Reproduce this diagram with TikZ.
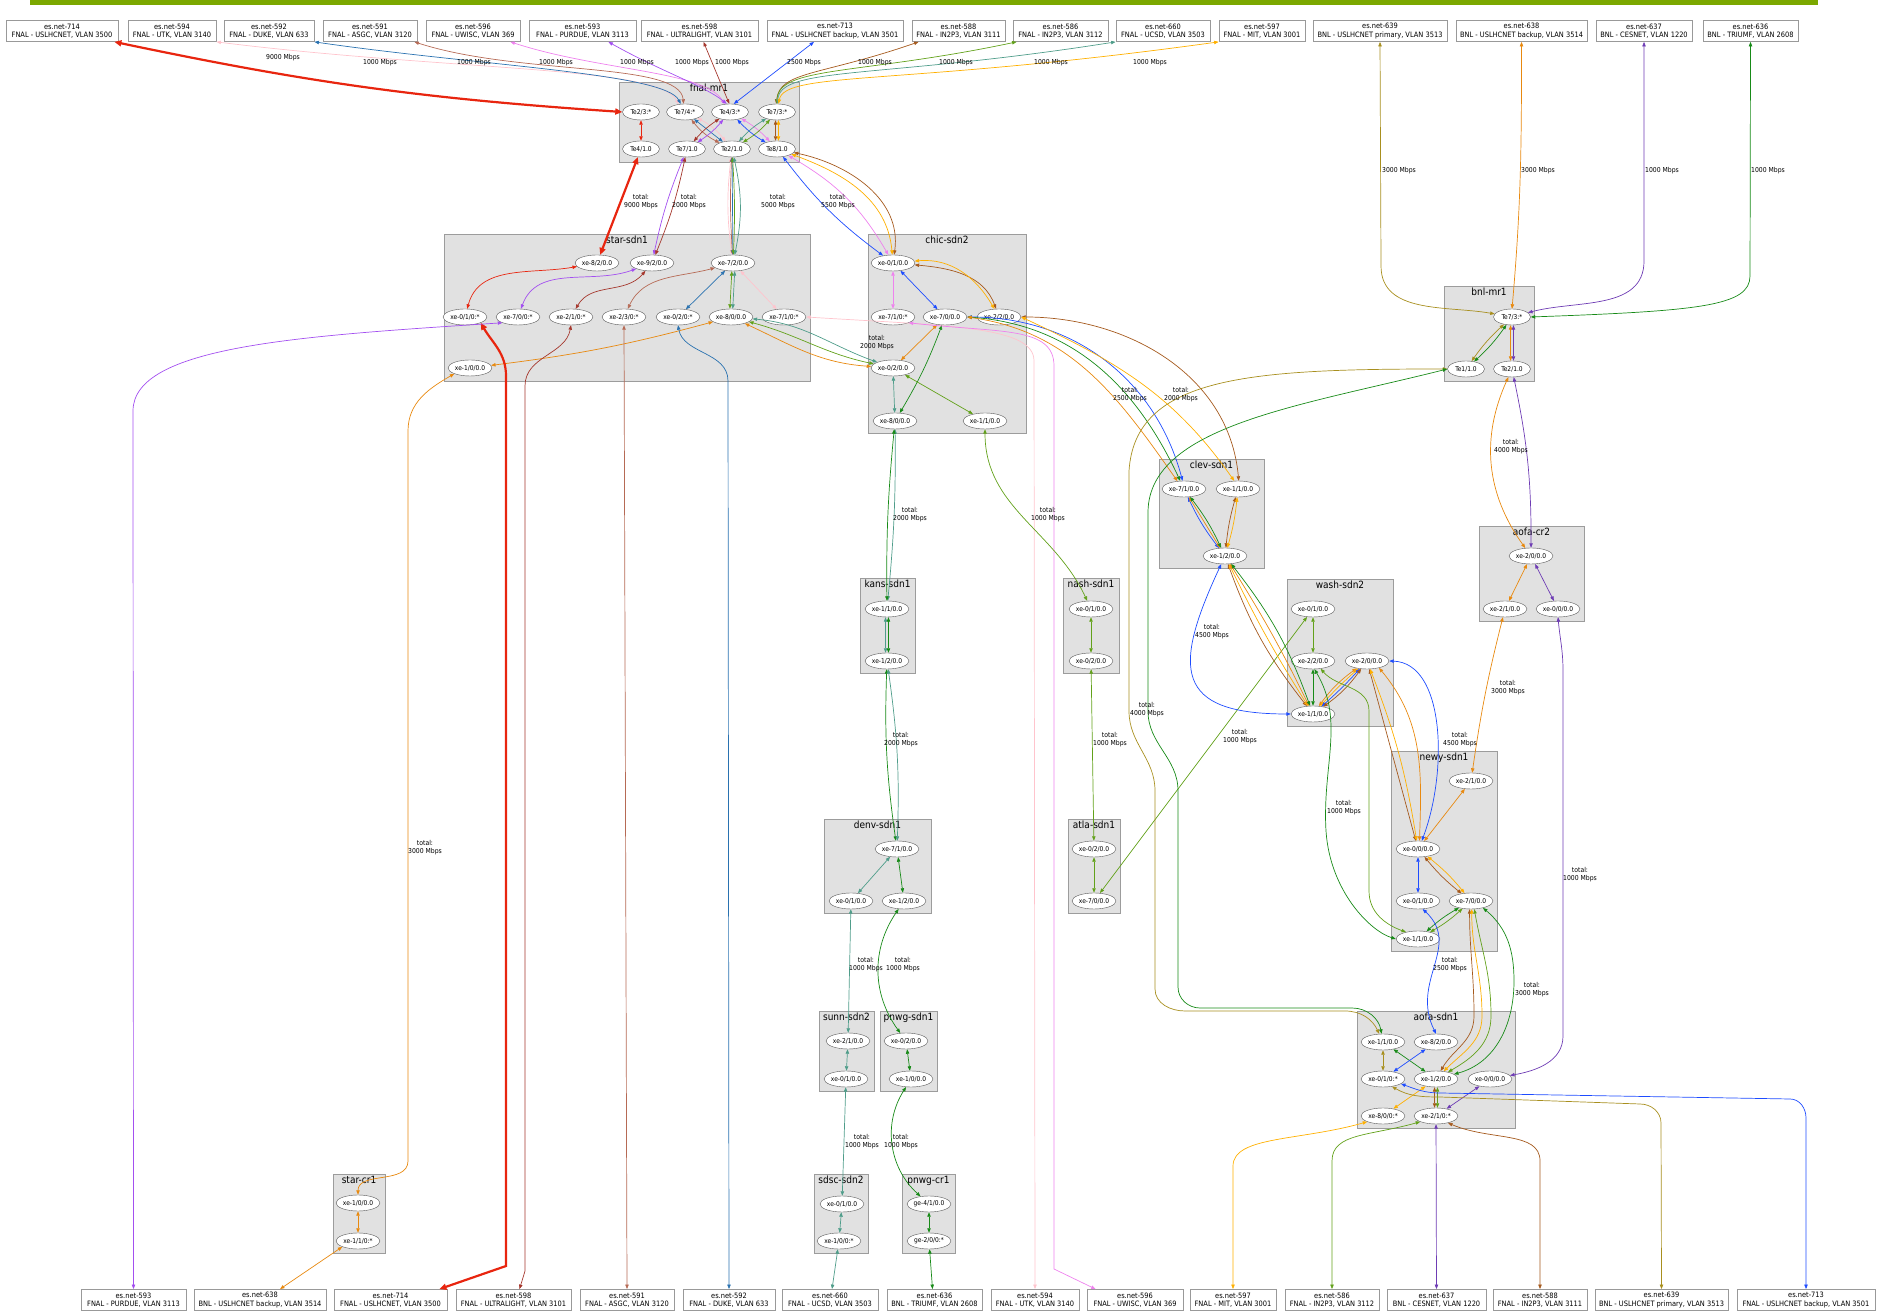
\documentclass[tikz,border=0pt]{standalone}
\usepackage{fontspec}
\setmainfont{DejaVu Sans Condensed}
\usetikzlibrary{arrows.meta,positioning,shapes.geometric}
\definecolor{col714}{HTML}{E8250F}
\definecolor{col594}{HTML}{FFC4CD}
\definecolor{col592}{HTML}{2A72B0}
\definecolor{col591}{HTML}{B66A55}
\definecolor{col596}{HTML}{EE82EE}
\definecolor{col593}{HTML}{A34FF0}
\definecolor{col598}{HTML}{A5372D}
\definecolor{col713}{HTML}{1E4CFF}
\definecolor{col588}{HTML}{A5591D}
\definecolor{col586}{HTML}{62A11A}
\definecolor{col660}{HTML}{4F9D8A}
\definecolor{col597}{HTML}{FFB000}
\definecolor{col639}{HTML}{A88F1E}
\definecolor{col638}{HTML}{E8890F}
\definecolor{col637}{HTML}{6E3CB4}
\definecolor{col636}{HTML}{178A17}
\definecolor{sitefill}{HTML}{E1E1E1}
\definecolor{siteline}{HTML}{9C9C9C}
\definecolor{topbar}{HTML}{7BA800}
\begin{document}
\begin{tikzpicture}[x=1pt,y=1pt,>={Triangle[length=4.5pt,width=3.4pt]},
site/.style={draw=siteline,fill=sitefill,line width=1pt,inner sep=0pt},
sitename/.style={anchor=north,inner sep=1.5pt,font=\fontsize{10}{11}\selectfont},
port/.style={draw=black!65,fill=white,ellipse,minimum width=44,minimum height=16,inner sep=0pt,font=\fontsize{6.6}{7}\selectfont},
te/.style={port,minimum width=37},
ext/.style={draw=black!40,fill=white,line width=0.8pt,minimum height=21,inner sep=0pt,align=center,font=\fontsize{7.4}{8.4}\selectfont},
lbl/.style={align=center,inner sep=0pt,font=\fontsize{6.8}{7.8}\selectfont},
link/.style={<->,line width=0.7pt},
fat/.style={line width=2.2pt,{Triangle[length=7pt,width=6pt]}-{Triangle[length=7pt,width=6pt]}},
es714/.style={link,draw=col714},es594/.style={link,draw=col594},
es592/.style={link,draw=col592},es591/.style={link,draw=col591},
es596/.style={link,draw=col596},es593/.style={link,draw=col593},
es598/.style={link,draw=col598},es713/.style={link,draw=col713},
es588/.style={link,draw=col588},es586/.style={link,draw=col586},
es660/.style={link,draw=col660},es597/.style={link,draw=col597},
es639/.style={link,draw=col639},es638/.style={link,draw=col638},
es637/.style={link,draw=col637},es636/.style={link,draw=col636}]
\useasboundingbox (0,0) rectangle (1881,1311);
\fill[topbar] (30,1306) rectangle (1818,1311);
% sites
\node[site,minimum width=180,minimum height=80,label={[sitename]north:fnal-mr1}] (fnal) at (709,1188) {};
\node[site,minimum width=366,minimum height=147,label={[sitename]north:star-sdn1}] (star) at (627,1002.5) {};
\node[site,minimum width=158,minimum height=199,label={[sitename]north:chic-sdn2}] (chic) at (947,976.5) {};
\node[site,minimum width=90,minimum height=95,label={[sitename]north:bnl-mr1}] (bnl) at (1489,976.5) {};
\node[site,minimum width=105,minimum height=109,label={[sitename]north:clev-sdn1}] (clev) at (1211.5,796.5) {};
\node[site,minimum width=105,minimum height=95,label={[sitename]north:aofa-cr2}] (aofacr) at (1531.5,736.5) {};
\node[site,minimum width=106,minimum height=147,label={[sitename]north:wash-sdn2}] (wash) at (1340,657.5) {};
\node[site,minimum width=55,minimum height=95,label={[sitename]north:kans-sdn1}] (kans) at (887.5,684.5) {};
\node[site,minimum width=56,minimum height=95,label={[sitename]north:nash-sdn1}] (nash) at (1091,684.5) {};
\node[site,minimum width=106,minimum height=200,label={[sitename]north:newy-sdn1}] (newy) at (1444,459) {};
\node[site,minimum width=107,minimum height=94,label={[sitename]north:denv-sdn1}] (denv) at (877.5,444) {};
\node[site,minimum width=52,minimum height=94,label={[sitename]north:atla-sdn1}] (atla) at (1094,444) {};
\node[site,minimum width=55,minimum height=80,label={[sitename]north:sunn-sdn2}] (sunn) at (846.5,259) {};
\node[site,minimum width=57,minimum height=80,label={[sitename]north:pnwg-sdn1}] (pnwg) at (908.5,259) {};
\node[site,minimum width=158,minimum height=117,label={[sitename]north:aofa-sdn1}] (aofa) at (1436,240.5) {};
\node[site,minimum width=54,minimum height=79,label={[sitename]north:sdsc-sdn2}] (sdsc) at (841,96.5) {};
\node[site,minimum width=53,minimum height=79,label={[sitename]north:pnwg-cr1}] (pnwgcr) at (928.5,96.5) {};
\node[site,minimum width=52,minimum height=79,label={[sitename]north:star-cr1}] (starcr) at (359,96.5) {};
% ports
\node[te] (f23) at (641,1199) {Te2/3:*};
\node[te] (f74) at (685,1199) {Te7/4:*};
\node[te] (f43) at (730,1199) {Te4/3:*};
\node[te] (f73) at (777,1199) {Te7/3:*};
\node[te] (f41) at (641,1162) {Te4/1.0};
\node[te] (f71) at (687,1162) {Te7/1.0};
\node[te] (f21) at (732,1162) {Te2/1.0};
\node[te] (f81) at (777,1162) {Te8/1.0};
\node[port] (s82) at (597,1048) {xe-8/2/0.0};
\node[port] (s92) at (652,1048) {xe-9/2/0.0};
\node[port] (s72) at (733,1048) {xe-7/2/0.0};
\node[port] (s01) at (465,994) {xe-0/1/0:*};
\node[port] (s70) at (518,994) {xe-7/0/0:*};
\node[port] (s21) at (571,994) {xe-2/1/0:*};
\node[port] (s23) at (624,994) {xe-2/3/0:*};
\node[port] (s02) at (678,994) {xe-0/2/0:*};
\node[port] (s80) at (731,994) {xe-8/0/0.0};
\node[port] (s71) at (784,994) {xe-7/1/0:*};
\node[port] (s10) at (470,943) {xe-1/0/0.0};
\node[port] (c01) at (893,1048) {xe-0/1/0.0};
\node[port] (c71) at (893,994) {xe-7/1/0:*};
\node[port] (c70) at (945,994) {xe-7/0/0.0};
\node[port] (c22) at (999,994) {xe-2/2/0.0};
\node[port] (c02) at (893,943) {xe-0/2/0.0};
\node[port] (c80) at (895,890) {xe-8/0/0.0};
\node[port] (c11) at (985,890) {xe-1/1/0.0};
\node[te] (b73) at (1512,994) {Te7/3:*};
\node[te] (b11) at (1466,942) {Te1/1.0};
\node[te] (b21) at (1512,942) {Te2/1.0};
\node[port] (v71) at (1184,822) {xe-7/1/0.0};
\node[port] (v11) at (1238,822) {xe-1/1/0.0};
\node[port] (v12) at (1225,755) {xe-1/2/0.0};
\node[port] (r20) at (1531,755) {xe-2/0/0.0};
\node[port] (r21) at (1505,702) {xe-2/1/0.0};
\node[port] (r00) at (1558,702) {xe-0/0/0.0};
\node[port] (w01) at (1313,702) {xe-0/1/0.0};
\node[port] (w22) at (1313,650) {xe-2/2/0.0};
\node[port] (w20) at (1367,650) {xe-2/0/0.0};
\node[port] (w11) at (1313,597) {xe-1/1/0.0};
\node[port] (k11) at (887,702) {xe-1/1/0.0};
\node[port] (k12) at (887,650) {xe-1/2/0.0};
\node[port] (n01) at (1091,702) {xe-0/1/0.0};
\node[port] (n02) at (1091,650) {xe-0/2/0.0};
\node[port] (y21) at (1471,530) {xe-2/1/0.0};
\node[port] (y00) at (1418,462) {xe-0/0/0.0};
\node[port] (y01) at (1418,410) {xe-0/1/0.0};
\node[port] (y70) at (1471,410) {xe-7/0/0.0};
\node[port] (y11) at (1418,372) {xe-1/1/0.0};
\node[port] (d71) at (897,462) {xe-7/1/0.0};
\node[port] (d01) at (851,410) {xe-0/1/0.0};
\node[port] (d12) at (904,410) {xe-1/2/0.0};
\node[port] (a02) at (1094,462) {xe-0/2/0.0};
\node[port] (a70) at (1094,410) {xe-7/0/0.0};
\node[port] (u21) at (848,270) {xe-2/1/0.0};
\node[port] (u01) at (846,232) {xe-0/1/0.0};
\node[port] (p02) at (906,270) {xe-0/2/0.0};
\node[port] (p10) at (911,232) {xe-1/0/0.0};
\node[port] (o11) at (1383,269) {xe-1/1/0.0};
\node[port] (o82) at (1436,269) {xe-8/2/0.0};
\node[port] (o01) at (1383,232) {xe-0/1/0:*};
\node[port] (o12) at (1436,232) {xe-1/2/0.0};
\node[port] (o00) at (1490,232) {xe-0/0/0.0};
\node[port] (o80) at (1383,195) {xe-8/0/0:*};
\node[port] (o21) at (1436,195) {xe-2/1/0:*};
\node[port] (q01) at (842,107) {xe-0/1/0.0};
\node[port] (q10) at (839,70) {xe-1/0/0:*};
\node[port] (g41) at (929,107) {ge-4/1/0.0};
\node[port] (g20) at (929,70) {ge-2/0/0:*};
\node[port] (z10) at (358,108) {xe-1/0/0.0};
\node[port] (z11) at (358,70) {xe-1/1/0:*};
% circuit ends, top row
\node[ext,minimum width=112] (t714) at (62,1280) {es.net-714\\FNAL - USLHCNET, VLAN 3500};
\node[ext,minimum width=88] (t594) at (172,1280) {es.net-594\\FNAL - UTK, VLAN 3140};
\node[ext,minimum width=90] (t592) at (269,1280) {es.net-592\\FNAL - DUKE, VLAN 633};
\node[ext,minimum width=94] (t591) at (370,1280) {es.net-591\\FNAL - ASGC, VLAN 3120};
\node[ext,minimum width=94] (t596) at (473,1280) {es.net-596\\FNAL - UWISC, VLAN 369};
\node[ext,minimum width=107] (t593) at (582.5,1280) {es.net-593\\FNAL - PURDUE, VLAN 3113};
\node[ext,minimum width=117] (t598) at (699.5,1280) {es.net-598\\FNAL - ULTRALIGHT, VLAN 3101};
\node[ext,minimum width=136] (t713) at (835,1280) {es.net-713\\FNAL - USLHCNET backup, VLAN 3501};
\node[ext,minimum width=93] (t588) at (958.5,1280) {es.net-588\\FNAL - IN2P3, VLAN 3111};
\node[ext,minimum width=95] (t586) at (1060.5,1280) {es.net-586\\FNAL - IN2P3, VLAN 3112};
\node[ext,minimum width=94] (t660) at (1163,1280) {es.net-660\\FNAL - UCSD, VLAN 3503};
\node[ext,minimum width=86] (t597) at (1262,1280) {es.net-597\\FNAL - MIT, VLAN 3001};
\node[ext,minimum width=134] (t639) at (1380,1280) {es.net-639\\BNL - USLHCNET primary, VLAN 3513};
\node[ext,minimum width=131] (t638) at (1521.5,1280) {es.net-638\\BNL - USLHCNET backup, VLAN 3514};
\node[ext,minimum width=96] (t637) at (1644,1280) {es.net-637\\BNL - CESNET, VLAN 1220};
\node[ext,minimum width=95] (t636) at (1750.5,1280) {es.net-636\\BNL - TRIUMF, VLAN 2608};
% circuit ends, bottom row
\node[ext,minimum width=105] (b593) at (133.5,11) {es.net-593\\FNAL - PURDUE, VLAN 3113};
\node[ext,minimum width=132] (b638) at (260,11) {es.net-638\\BNL - USLHCNET backup, VLAN 3514};
\node[ext,minimum width=113] (b714) at (390.5,11) {es.net-714\\FNAL - USLHCNET, VLAN 3500};
\node[ext,minimum width=115] (b598) at (513.5,11) {es.net-598\\FNAL - ULTRALIGHT, VLAN 3101};
\node[ext,minimum width=94] (b591) at (627,11) {es.net-591\\FNAL - ASGC, VLAN 3120};
\node[ext,minimum width=92] (b592) at (729,11) {es.net-592\\FNAL - DUKE, VLAN 633};
\node[ext,minimum width=96] (b660) at (830,11) {es.net-660\\FNAL - UCSD, VLAN 3503};
\node[ext,minimum width=95] (b636) at (934.5,11) {es.net-636\\BNL - TRIUMF, VLAN 2608};
\node[ext,minimum width=88] (b594) at (1035,11) {es.net-594\\FNAL - UTK, VLAN 3140};
\node[ext,minimum width=96] (b596) at (1135,11) {es.net-596\\FNAL - UWISC, VLAN 369};
\node[ext,minimum width=86] (b597) at (1233,11) {es.net-597\\FNAL - MIT, VLAN 3001};
\node[ext,minimum width=94] (b586) at (1332,11) {es.net-586\\FNAL - IN2P3, VLAN 3112};
\node[ext,minimum width=99] (b637) at (1436.5,11) {es.net-637\\BNL - CESNET, VLAN 1220};
\node[ext,minimum width=94] (b588) at (1540,11) {es.net-588\\FNAL - IN2P3, VLAN 3111};
\node[ext,minimum width=133] (b639) at (1661.5,11) {es.net-639\\BNL - USLHCNET primary, VLAN 3513};
\node[ext,minimum width=138] (b713) at (1806,11) {es.net-713\\FNAL - USLHCNET backup, VLAN 3501};
% top row to fnal-mr1
\draw[es714,fat] ([xshift=-4]t714.south east) to[bend right=4] (f23.west);
\draw[es594] (t594.south east) .. controls (450,1240) and (660,1245) .. (f74.130);
\draw[es592] (t592.south east) .. controls (480,1245) and (665,1238) .. (f74.118);
\draw[es591] ([xshift=-3]t591.south east) .. controls (520,1235) and (680,1250) .. (f74.100);
\draw[es596] ([xshift=-10]t596.south east) .. controls (600,1240) and (705,1240) .. (f43.125);
\draw[es593] ([xshift=-28]t593.south east) .. controls (660,1240) and (705,1225) .. (f43.112);
\draw[es598] ([xshift=4]t598.south) -- (f43.95);
\draw[es713] ([xshift=-21]t713.south) -- (f43.65);
\draw[es588] ([xshift=7]t588.south west) .. controls (820,1235) and (780,1240) .. (f73.96);
\draw[es586] ([xshift=4]t586.south west) .. controls (860,1236) and (778,1245) .. (f73.90);
\draw[es660] (t660.south west) .. controls (880,1232) and (780,1245) .. (f73.86);
\draw[es597] (t597.south west) .. controls (900,1225) and (785,1240) .. (f73.80);
% fnal-mr1
\draw[es714] (f23) -- (f41);
\draw[es594] (f74) to[bend left=12] (f21);\draw[es592] (f74) -- (f21);\draw[es591] (f74) to[bend right=12] (f21);
\draw[es593] (f43) to[bend left=8] (f71);\draw[es598] (f43) to[bend right=8] (f71);
\draw[es596] (f43) to[bend left=8] (f81);\draw[es713] (f43) to[bend right=8] (f81);
\draw[es586] (f73) to[bend left=8] (f21);\draw[es660] (f73) to[bend right=8] (f21);
\draw[es588] (f73.-100) -- (f81.100);\draw[es597] (f73.-80) -- (f81.80);
% fnal-mr1 to star-sdn1 and chic-sdn2
\draw[es714,fat] (f41) -- (s82);
\draw[es593] (f71) to[bend right=5] (s92);\draw[es598] (f71) to[bend left=5] (s92);
\draw[es594] (f21) to[bend right=7] (s72);\draw[es591] (f21) to[bend right=3] (s72);\draw[es592] (f21) -- (s72);
\draw[es586] (f21) to[bend left=3] (s72);\draw[es660] (f21) to[bend left=12] (s72);
\draw[es713] (f81) to[bend right=8] (c01);\draw[es596] (f81) to[out=-30,in=120] (c01);
\draw[es588] (f81) to[out=-12,in=82] (c01);\draw[es597] (f81) to[out=-20,in=95] (c01);
% star-sdn1
\draw[es714] (s82) to[out=190,in=75] (s01);
\draw[es593] (s92) to[out=200,in=70] (s70);
\draw[es598] (s92) to[out=230,in=60] (s21);
\draw[es591] (s72) to[out=195,in=65] (s23);
\draw[es592] (s72) -- (s02);
\draw[es586] (s72.-98) -- (s80.98);\draw[es660] (s72.-78) -- (s80.78);
\draw[es594] (s72) -- (s71);
\draw[es638] (s80) to[bend left=4] (s10);
\draw[es660] (s80) to[out=-5,in=160] (c02);\draw[es586] (s80) to[out=-15,in=168] (c02);\draw[es638] (s80) to[out=-25,in=176] (c02);
% star-sdn1 down to the bottom row
\draw[es714,fat] (s01.south east) to[out=-60,in=90] (506,935) -- (506,45) -- ([xshift=-8]b714.north east);
\draw[es598] (s21.south) to[out=-100,in=90] (525,925) -- (525,40) -- ([xshift=6]b598.north);
\draw[es591] (s23.south) -- (b591.north);
\draw[es592] (s02.south) to[out=-80,in=90] (728,930) -- (b592.north);
\draw[es593] (s70.south west) .. controls (300,975) and (133,965) .. (133,900) -- (b593.north);
\draw[es594] (s71.east) .. controls (950,985) and (1034,985) .. (1034,950) -- (b594.north);
\draw[es638] (s10.south west) to[out=210,in=90] (408,880) -- (408,150) to[out=-90,in=90] (z10.north);
\draw[es638] (z10) -- (z11);\draw[es638] (z11.south west) -- ([xshift=20]b638.north);
% chic-sdn2
\draw[es596] (c01) -- (c71);\draw[es713] (c01) -- (c70);
\draw[es588] (c01) to[out=-5,in=110] (c22);\draw[es597] (c01) to[out=5,in=120] (c22);
\draw[es638] (c02) -- (c70);\draw[es636] (c70) to[bend left=5] (c80);
\draw[es660] (c02) -- (c80);\draw[es586] (c02) -- (c11);
\draw[es596] (c71.south east) .. controls (1000,978) and (1054,985) .. (1054,945) -- (1054,42) -- ([xshift=9]b596.north west);
% chic-sdn2 to clev-sdn1, kans-sdn1, nash-sdn1
\draw[es713] (c70.east) to[out=0,in=105] (v71.100);
\draw[es636] (c70.east) to[out=-4,in=115] (v71.115);
\draw[es638] (c70.east) to[out=-8,in=125] (v71.130);
\draw[es588] (c22.east) to[out=0,in=95] (v11.85);
\draw[es597] (c22.east) to[out=-25,in=125] (v11.115);
\draw[es660] (c80) to[bend left=3] (k11);\draw[es636] (c80) to[bend right=3] (k11);
\draw[es586] (c11) to[out=-90,in=115] (n01);
% kans-sdn1, denv-sdn1, sunn-sdn2, pnwg-sdn1, sdsc-sdn2, pnwg-cr1
\draw[es660] (k11.-100) -- (k12.100);\draw[es636] (k11.-80) -- (k12.80);
\draw[es636] (k12) to[bend right=5] (d71);\draw[es660] (k12) to[bend left=5] (d71);
\draw[es660] (d71) -- (d01);\draw[es636] (d71) -- (d12);
\draw[es660] (d01) -- (u21);\draw[es636] (d12) to[bend right=35] (p02);
\draw[es660] (u21) -- (u01);\draw[es636] (p02) -- (p10);
\draw[es660] (u01) -- (q01);\draw[es636] (p10) to[bend right=40] (g41);
\draw[es660] (q01) -- (q10);\draw[es636] (g41) -- (g20);
\draw[es660] (q10) -- ([xshift=2]b660.north);\draw[es636] (g20) -- ([xshift=-2]b636.north);
% nash-sdn1, atla-sdn1
\draw[es586] (n01) -- (n02);\draw[es586] (n02) -- (a02);
\draw[es586] (a02) -- (a70);\draw[es586] (a70) -- (w01);
% bnl-mr1
\draw[es639] (t639.south) -- (1381,1045) to[out=-90,in=170] (b73.170);
\draw[es638] (t638.south) to[out=-90,in=85] (b73.north);
\draw[es637] (t637.south) -- (1644,1050) to[out=-90,in=15] (b73.15);
\draw[es636] (t636.south) -- (1750,1035) .. controls (1750,1005) and (1700,1000) .. (b73.east);
\draw[es639] (b73) to[bend right=6] (b11);\draw[es636] (b73) to[bend left=6] (b11);
\draw[es638] (b73.-100) -- (b21.100);\draw[es637] (b73.-80) -- (b21.80);
\draw[es639] (b11.west) .. controls (1250,942) and (1135,935) .. (1129,840) -- (1129,600) to[out=-90,in=90] (1155,520) -- (1155,322) to[out=-90,in=180] (1185,300) -- (1345,300) to[out=0,in=115] (o11.115);
\draw[es636] (b11.west) .. controls (1300,905) and (1150,885) .. (1148,800) -- (1148,600) to[out=-90,in=90] (1178,520) -- (1178,324) to[out=-90,in=180] (1200,303) -- (1352,303) to[out=0,in=100] (o11.100);
\draw[es638] (b21) to[bend right=30] (r20);\draw[es637] (b21) to[bend left=6] (r20);
% aofa-cr2
\draw[es638] (r20) -- (r21);\draw[es637] (r20) -- (r00);
\draw[es638] (r21) to[bend right=3] (y21);
\draw[es637] (r00.south) to[out=-85,in=90] (1563,640) -- (1563,275) to[out=-90,in=10] (o00.10);
% clev-sdn1
\draw[es713] (v71) to[bend right=6] (v12);\draw[es638] (v71) -- (v12);\draw[es636] (v71) to[bend left=6] (v12);
\draw[es588] (v11) to[bend right=5] (v12);\draw[es597] (v11) to[bend left=5] (v12);
\draw[es713] (v12) to[out=-115,in=180,looseness=1.8] (w11);
\draw[es588] (v12) to[bend right=9] (w11);\draw[es597] (v12) to[bend right=3] (w11);
\draw[es638] (v12) to[bend left=3] (w11);\draw[es636] (v12) to[bend left=9] (w11);
% wash-sdn2
\draw[es586] (w01) -- (w22);\draw[es636] (w22) -- (w11);
\draw[es638] (w11) to[bend left=9] (w20);\draw[es597] (w11) to[bend left=3] (w20);
\draw[es713] (w11) to[bend right=3] (w20);\draw[es588] (w11) to[bend right=9] (w20);
\draw[es588] (w20) -- (y00);\draw[es597] (w20) to[bend left=6] (y00);
\draw[es638] (w20.-30) to[out=-50,in=88] (y00.80);
\draw[es713] (w20.east) .. controls (1445,648) and (1448,540) .. (y00.65);
\draw[es636] (w22.-80) .. controls (1345,590) and (1322,545) .. (1326,480) .. controls (1330,420) and (1370,380) .. (y11.west);
\draw[es586] (w22.-45) to[out=-50,in=90] (1369,600) -- (1369,420) to[out=-90,in=160] (y11.150);
% newy-sdn1
\draw[es638] (y21) -- (y00);\draw[es713] (y00) -- (y01);
\draw[es588] (y00) to[bend right=6] (y70);\draw[es597] (y00) to[bend left=6] (y70);
\draw[es636] (y70) to[bend right=6] (y11);\draw[es586] (y70) to[bend left=6] (y11);
\draw[es713] (y01.-60) .. controls (1462,365) and (1410,330) .. (o82.north);
\draw[es588] (y70.-100) to[out=-90,in=90] (1474,295) to[out=-90,in=60] (o12.60);
\draw[es597] (y70.-85) to[out=-90,in=90] (1482,295) to[out=-90,in=45] (o12.45);
\draw[es586] (y70.-68) to[out=-80,in=90] (1491,295) to[out=-90,in=30] (o12.30);
\draw[es636] (y70.-30) to[out=-40,in=90] (1514,330) to[out=-90,in=15] (o12.15);
% aofa-sdn1
\draw[es639] (o11) -- (o01);\draw[es636] (o11) -- (o12);
\draw[es713] (o82) -- (o01);\draw[es597] (o12) -- (o80);
\draw[es588] (o12.-100) -- (o21.100);\draw[es586] (o12.-80) -- (o21.80);
\draw[es637] (o00) -- (o21);
\draw[es639] (o01.-40) to[out=-30,in=180] (1440,214) -- (1640,207) to[out=0,in=90] (1661,188) -- (b639.north);
\draw[es713] (o01.-15) to[out=-20,in=180] (1440,218) -- (1790,212) to[out=0,in=90] (1806,193) -- (b713.north);
\draw[es597] (o80.-160) .. controls (1300,170) and (1233,175) .. (1233,145) -- (b597.north);
\draw[es586] (o21.-160) .. controls (1370,175) and (1332,178) .. (1332,150) -- (b586.north);
\draw[es637] (o21) -- (b637);
\draw[es588] (o21.-30) .. controls (1490,170) and (1540,180) .. (1540,150) -- (b588.north);
% bandwidth labels
\node[lbl] (bw714) at (283,1253) {9000 Mbps};
\node[lbl] (bw594) at (380,1248) {1000 Mbps};
\node[lbl] (bw592) at (474,1248) {1000 Mbps};
\node[lbl] (bw591) at (556,1248) {1000 Mbps};
\node[lbl] (bw596) at (637,1248) {1000 Mbps};
\node[lbl] (bw593) at (692,1248) {1000 Mbps};
\node[lbl] (bw598) at (732,1248) {1000 Mbps};
\node[lbl] (bw713) at (804,1248) {2500 Mbps};
\node[lbl] (bw588) at (875,1248) {1000 Mbps};
\node[lbl] (bw586) at (956,1248) {1000 Mbps};
\node[lbl] (bw660) at (1051,1248) {1000 Mbps};
\node[lbl] (bw597) at (1150,1248) {1000 Mbps};
\node[lbl] (bw639) at (1399,1140) {3000 Mbps};
\node[lbl] (bw638) at (1538,1140) {3000 Mbps};
\node[lbl] (bw637) at (1662,1140) {1000 Mbps};
\node[lbl] (bw636) at (1768,1140) {1000 Mbps};
\node[lbl] (fnalstar1) at (641,1109) {total:\\9000 Mbps};
\node[lbl] (fnalstar2) at (689,1109) {total:\\2000 Mbps};
\node[lbl] (fnalstar3) at (778,1109) {total:\\5000 Mbps};
\node[lbl] (fnalchic) at (838,1109) {total:\\5500 Mbps};
\node[lbl] (starchic) at (877,968) {total:\\2000 Mbps};
\node[lbl] (chicclev1) at (1130,916) {total:\\2500 Mbps};
\node[lbl] (chicclev2) at (1181,916) {total:\\2000 Mbps};
\node[lbl] (bnlcr) at (1511,864) {total:\\4000 Mbps};
\node[lbl] (chickans) at (910,796) {total:\\2000 Mbps};
\node[lbl] (chicnash) at (1048,796) {total:\\1000 Mbps};
\node[lbl] (kansdenv) at (901,571) {total:\\2000 Mbps};
\node[lbl] (nashatla) at (1110,571) {total:\\1000 Mbps};
\node[lbl] (clevwash) at (1212,679) {total:\\4500 Mbps};
\node[lbl] (bnlaofa) at (1147,601) {total:\\4000 Mbps};
\node[lbl] (atlawash) at (1240,574) {total:\\1000 Mbps};
\node[lbl] (washnewy1) at (1460,571) {total:\\4500 Mbps};
\node[lbl] (crnewy) at (1508,623) {total:\\3000 Mbps};
\node[lbl] (washnewy2) at (1344,503) {total:\\1000 Mbps};
\node[lbl] (craofa) at (1580,436) {total:\\1000 Mbps};
\node[lbl] (newyaofa1) at (1450,346) {total:\\2500 Mbps};
\node[lbl] (newyaofa2) at (1532,321) {total:\\3000 Mbps};
\node[lbl] (denvsunn) at (866,346) {total:\\1000 Mbps};
\node[lbl] (denvpnwg) at (903,346) {total:\\1000 Mbps};
\node[lbl] (sunnsdsc) at (862,169) {total:\\1000 Mbps};
\node[lbl] (pnwgcr1) at (901,169) {total:\\1000 Mbps};
\node[lbl] (starcr1) at (425,463) {total:\\3000 Mbps};
\end{tikzpicture}
\end{document}
